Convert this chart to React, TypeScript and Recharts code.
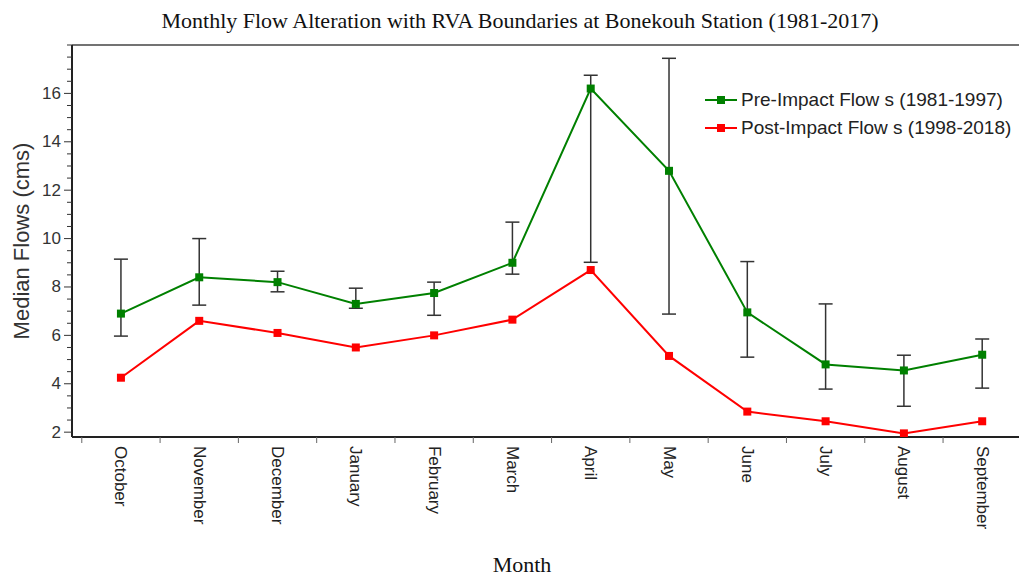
import {
  ComposedChart,
  Line,
  XAxis,
  YAxis,
  ErrorBar,
  ReferenceLine,
} from "recharts";

const months = [
  "October",
  "November",
  "December",
  "January",
  "February",
  "March",
  "April",
  "May",
  "June",
  "July",
  "August",
  "September",
];
const preImpact = [6.9, 8.4, 8.2, 7.3, 7.75, 9.0, 16.2, 12.8, 6.95, 4.8, 4.55, 5.2];
const postImpact = [4.25, 6.6, 6.1, 5.5, 6.0, 6.65, 8.7, 5.15, 2.85, 2.45, 1.95, 2.45];
const rvaLower = [5.97, 7.25, 7.8, 7.12, 6.83, 8.53, 9.02, 6.88, 5.1, 3.78, 3.07, 3.82];
const rvaUpper = [9.15, 10.0, 8.65, 7.95, 8.2, 10.68, 16.75, 17.45, 9.05, 7.3, 5.18, 5.85];
const yMajorTicks = [2, 4, 6, 8, 10, 12, 14, 16];

const GREEN = "#008000";
const RED = "#ff0000";
const SANS = "Liberation Sans, Arial, sans-serif";
const SERIF = "Liberation Serif, Times New Roman, serif";

const data = months.map((m, i) => ({
  idx: i,
  month: m,
  pre: preImpact[i],
  post: postImpact[i],
  rva: [preImpact[i] - rvaLower[i], rvaUpper[i] - preImpact[i]],
}));

// minor ticks every 0.5, labels only on the majors
const yTicks: number[] = [];
for (let v = 2; v <= 18; v += 0.5) yTicks.push(v);
const xTicks: number[] = [];
for (let i = 0; i < months.length; i++) {
  xTicks.push(i - 0.5);
  xTicks.push(i);
}

function YTick({ x, y, payload }: any) {
  const v = payload.value;
  const major = yMajorTicks.includes(v);
  return (
    <g>
      <line x1={x - (major ? 8 : 5)} x2={x} y1={y} y2={y} stroke="#333" strokeWidth={1} />
      {major && (
        <text
          x={x - 11}
          y={y}
          textAnchor="end"
          dominantBaseline="central"
          fontSize={17}
          fontFamily={SANS}
          fill="#333"
        >
          {v}
        </text>
      )}
    </g>
  );
}

function XTick({ x, y, payload }: any) {
  const v = payload.value;
  if (!Number.isInteger(v)) {
    return <line x1={x} x2={x} y1={y} y2={y + 6} stroke="#666" strokeWidth={1} />;
  }
  return (
    <text
      x={x}
      y={y + 9}
      transform={`rotate(90, ${x}, ${y + 9})`}
      textAnchor="start"
      dominantBaseline="central"
      fontSize={17}
      fontFamily={SANS}
      fill="#222"
    >
      {months[v]}
    </text>
  );
}

function SquareDot({ cx, cy, stroke, index }: any) {
  return <rect key={index} x={cx - 4} y={cy - 4} width={8} height={8} fill={stroke} />;
}

function LegendBox() {
  const items = [
    { color: GREEN, label: "Pre-Impact Flow s (1981-1997)" },
    { color: RED, label: "Post-Impact Flow s (1998-2018)" },
  ];
  return (
    <div
      style={{
        position: "absolute",
        left: 704,
        top: 86,
        fontFamily: SANS,
        fontSize: 19,
        color: "#222",
      }}
    >
      {items.map((it) => (
        <div key={it.label} style={{ display: "flex", alignItems: "center", height: 28 }}>
          <svg width={34} height={12} style={{ marginRight: 3 }}>
            <line x1={1} x2={33} y1={6} y2={6} stroke={it.color} strokeWidth={2} />
            <rect x={13} y={2} width={8} height={8} fill={it.color} />
          </svg>
          <span style={{ whiteSpace: "nowrap" }}>{it.label}</span>
        </div>
      ))}
    </div>
  );
}

export default function App() {
  return (
    <div style={{ position: "absolute", left: 0, top: 0, width: 1019, height: 575, background: "#fff" }}>
      <ComposedChart
        width={1019}
        height={575}
        data={data}
        margin={{ top: 45, right: 0, bottom: 28, left: 0 }}
      >
        <XAxis
          dataKey="idx"
          type="number"
          domain={[-0.625, 11.47]}
          ticks={xTicks}
          interval={0}
          tick={<XTick />}
          tickLine={false}
          tickSize={0}
          tickMargin={0}
          height={110}
          allowDataOverflow
          axisLine={{ stroke: "#222", strokeWidth: 2 }}
        />
        <YAxis
          type="number"
          domain={[1.8, 18]}
          ticks={yTicks}
          interval={0}
          tick={<YTick />}
          tickLine={false}
          tickSize={0}
          tickMargin={0}
          width={72}
          allowDataOverflow
          axisLine={{ stroke: "#222", strokeWidth: 2 }}
        />
        <ReferenceLine y={18} stroke="#444" strokeWidth={1.5} />
        <Line
          dataKey="pre"
          stroke={GREEN}
          strokeWidth={2}
          dot={<SquareDot />}
          activeDot={false}
          isAnimationActive={false}
        >
          <ErrorBar dataKey="rva" width={7} stroke="#333" strokeWidth={1.5} direction="y" />
        </Line>
        <Line
          dataKey="post"
          stroke={RED}
          strokeWidth={2}
          dot={<SquareDot />}
          activeDot={false}
          isAnimationActive={false}
        />
      </ComposedChart>
      <div
        style={{
          position: "absolute",
          top: 8,
          left: 0,
          width: 1040,
          textAlign: "center",
          fontFamily: SERIF,
          fontSize: 22,
          color: "#111",
        }}
      >
        Monthly Flow Alteration with RVA Boundaries at Bonekouh Station (1981-2017)
      </div>
      <div
        style={{
          position: "absolute",
          left: 22,
          top: 241,
          transform: "translate(-50%, -50%) rotate(-90deg)",
          whiteSpace: "nowrap",
          fontFamily: SANS,
          fontSize: 22,
          color: "#333",
        }}
      >
        Median Flows (cms)
      </div>
      <div
        style={{
          position: "absolute",
          top: 552,
          left: 0,
          width: 1044,
          textAlign: "center",
          fontFamily: SERIF,
          fontSize: 22,
          color: "#111",
        }}
      >
        Month
      </div>
      <LegendBox />
    </div>
  );
}
